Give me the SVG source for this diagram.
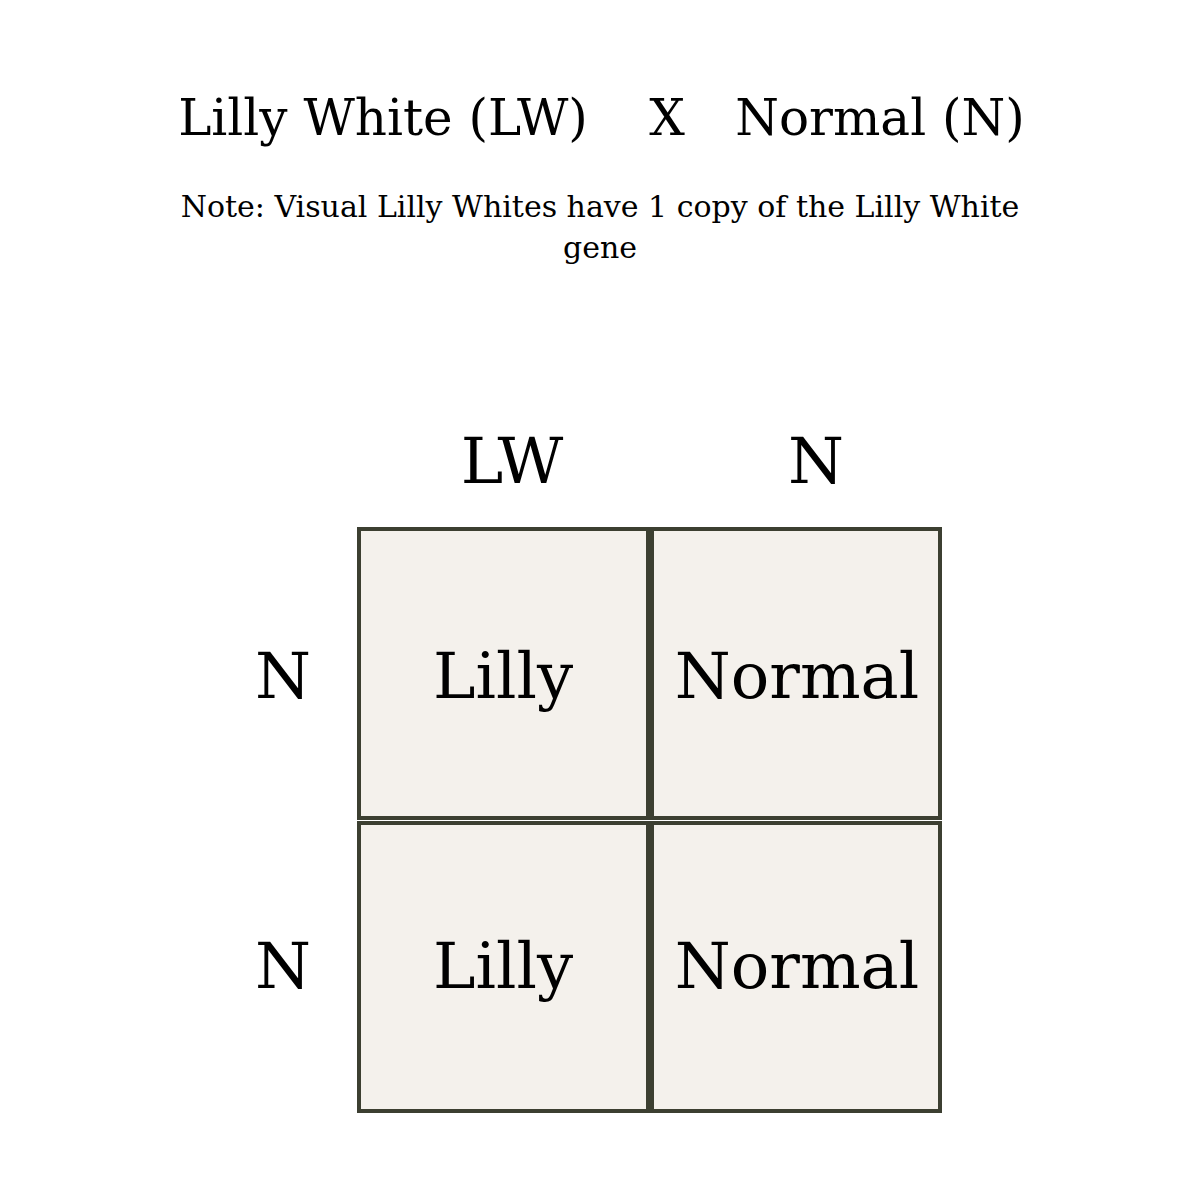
<svg xmlns="http://www.w3.org/2000/svg" width="1200" height="1200" viewBox="0 0 1200 1200">
<style>
text{font-family:"DejaVu Serif","Liberation Serif",serif;fill:#000;text-anchor:middle}
.title{font-size:50px}
.note{font-size:30px}
.big{font-size:64px}
.cell{fill:#f4f1ec;stroke:#3c3f31;stroke-width:4}
</style>
<rect width="1200" height="1200" fill="#fff"/>
<g id="title">
<text class="title" x="383" y="135">Lilly White (LW)</text>
<text class="title" x="667" y="135">X</text>
<text class="title" x="880" y="135">Normal (N)</text>
</g>
<g id="note">
<text class="note" x="600" y="217">Note: Visual Lilly Whites have 1 copy of the Lilly White</text>
<text class="note" x="600" y="258">gene</text>
</g>
<g id="col-LW"><text class="big" x="512" y="483">LW</text></g>
<g id="col-N"><text class="big" x="816" y="483">N</text></g>
<g id="row-N1"><text class="big" x="283" y="698">N</text></g>
<g id="row-N2"><text class="big" x="283" y="988">N</text></g>
<g id="cell-1"><rect class="cell" x="359" y="529" width="289" height="289"/><text class="big" x="503" y="698">Lilly</text></g>
<g id="cell-2"><rect class="cell" x="652" y="529" width="288" height="289"/><text class="big" x="797" y="698">Normal</text></g>
<g id="cell-3"><rect class="cell" x="359" y="823" width="289" height="288"/><text class="big" x="503" y="988">Lilly</text></g>
<g id="cell-4"><rect class="cell" x="652" y="823" width="288" height="288"/><text class="big" x="797" y="988">Normal</text></g>
<g id="connectors"/>
</svg>
